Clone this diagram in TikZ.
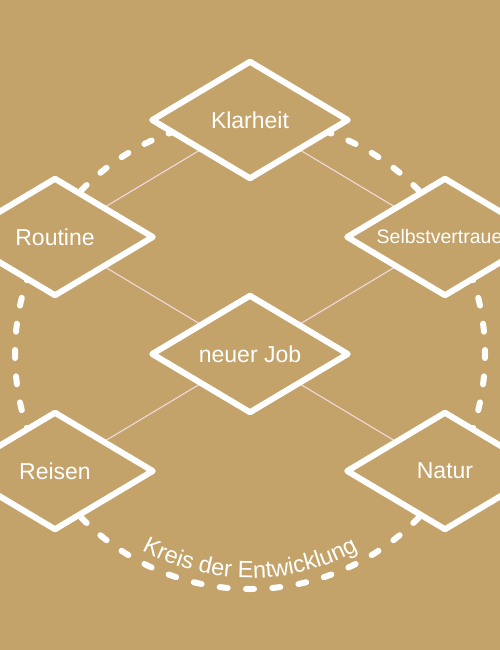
\documentclass[tikz,border=0pt]{standalone}
\usepackage{fontspec}
\setmainfont{Liberation Sans}
\usetikzlibrary{shapes.geometric,decorations.text,calc}
\definecolor{bgtan}{HTML}{C4A36B}
\definecolor{linkpink}{HTML}{F3DDE6}
\begin{document}
\begin{tikzpicture}[x=1pt,y=-1pt,
  dia/.style={shape=diamond, draw=white, fill=bgtan, line width=6pt, line join=round,
    minimum width=198pt, minimum height=119pt, inner sep=0pt},
  lbl/.style={text=white, font=\fontsize{23}{27}\selectfont, inner sep=0pt},
  lblsmall/.style={lbl, font=\fontsize{19.5}{23}\selectfont},
  link/.style={draw=linkpink, line width=1pt},
  ring/.style={draw=white, line width=6pt, line cap=round,
    dash pattern=on 8pt off 18.37pt, dash phase=4pt}]
\fill[bgtan] (0,0) rectangle (500,650);
\useasboundingbox (0,0) rectangle (500,650);
\coordinate (ctr) at (250,354);
% anchor points for diamonds
\coordinate (pk) at (250,120);
\coordinate (pr) at (55,237);
\coordinate (ps) at (445,237);
\coordinate (pj) at (250,354);
\coordinate (pre) at (55,471);
\coordinate (pn) at (445,471);
% links
\draw[link] (pk) -- (pr);
\draw[link] (pk) -- (ps);
\draw[link] (pr) -- (pj);
\draw[link] (ps) -- (pj);
\draw[link] (pj) -- (pre);
\draw[link] (pj) -- (pn);
% dashed ring
\draw[ring] (ctr) circle[radius=235];
% diamonds
\node[dia] (k) at (pk) {};
\node[dia] (r) at (pr) {};
\node[dia] (s) at (ps) {};
\node[dia] (j) at (pj) {};
\node[dia] (re) at (pre) {};
\node[dia] (n) at (pn) {};
% labels
\node[lbl] (kt) at (k.center) {Klarheit};
\node[lbl] (rt) at (r.center) {Routine};
\node[lblsmall] (st) at (s.center) {Selbstvertrauen};
\node[lbl] (jt) at (j.center) {neuer Job};
\node[lbl] (ret) at (re.center) {Reisen};
\node[lbl] (nt) at (n.center) {Natur};
% arc text
\path[decorate, decoration={text along path, text align=center,
  text={|\color{white}\fontsize{23.5}{27}\selectfont|Kreis der Entwicklung}}]
  ($(ctr)+(150:224)$) arc[start angle=150, end angle=30, radius=224];
\end{tikzpicture}
\end{document}
